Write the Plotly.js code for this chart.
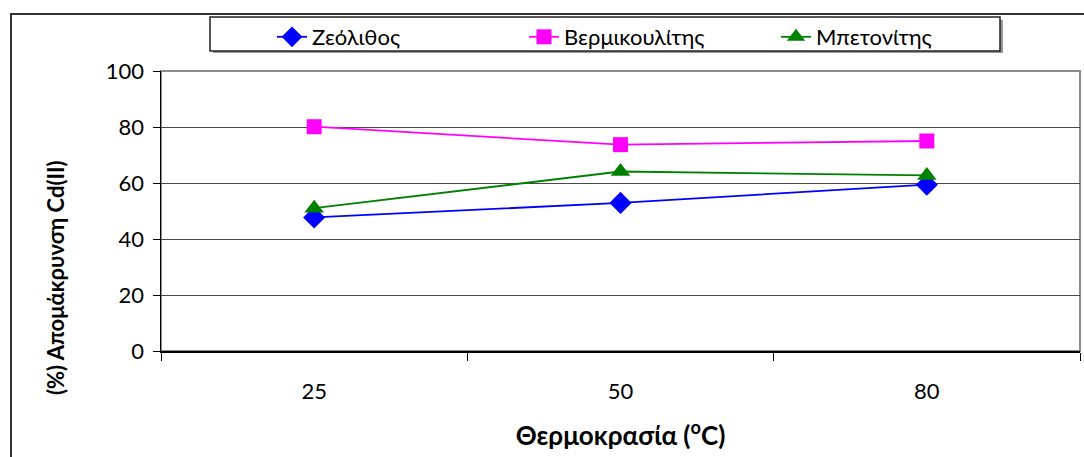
<!DOCTYPE html>
<html>
<head>
<meta charset="utf-8">
<script src="https://cdn.plot.ly/plotly-3.0.1.min.js"></script>
<style>
html,body{margin:0;padding:0;background:#fff;}
#chart{width:1084px;height:457px;}
</style>
</head>
<body>
<div id="chart"></div>
<script>
// ---- data ----
var temperatures = ["25", "50", "80"];
var zeolite = [47.7, 52.9, 59.4];
var vermiculite = [80.1, 73.7, 75.0];
var bentonite = [51.0, 64.1, 62.7];
var seriesNames = ["Ζεόλιθος", "Βερμικουλίτης", "Μπετονίτης"];
var yTicks = [0, 20, 40, 60, 80, 100];

// ---- layout geometry (pixels) ----
var W = 1084, H = 457;
var M = {l: 161, r: 4, t: 71, b: 106};
var PW = W - M.l - M.r, PH = H - M.t - M.b;
function px(x){ return (x - M.l) / PW; }
function py(y){ return 1 - (y - M.t) / PH; }

var FONT = "Lato, 'Open Sans', sans-serif";

var traces = [
  {x: temperatures, y: zeolite, name: seriesNames[0], type: "scatter", mode: "lines+markers",
   line: {color: "#0000FF", width: 1.8},
   marker: {symbol: "diamond", size: 17, color: "#0000FF"}},
  {x: temperatures, y: vermiculite, name: seriesNames[1], type: "scatter", mode: "lines+markers",
   line: {color: "#FF00FF", width: 1.8},
   marker: {symbol: "square", size: 15, color: "#FF00FF"}},
  {x: temperatures, y: bentonite, name: seriesNames[2], type: "scatter", mode: "lines+markers",
   line: {color: "#008000", width: 1.8},
   marker: {symbol: "triangle-up", size: 17, color: "#008000"}}
];

var layout = {
  width: W, height: H,
  margin: M,
  paper_bgcolor: "#ffffff",
  plot_bgcolor: "#ffffff",
  font: {family: FONT, size: 21, color: "#000"},
  showlegend: true,
  legend: {
    orientation: "h",
    x: px(272), xanchor: "left",
    y: py(16), yanchor: "top",
    bgcolor: "rgba(0,0,0,0)",
    borderwidth: 0,
    entrywidth: 207,
    entrywidthmode: "pixels",
    font: {family: FONT, size: 22, color: "#000"},
    itemclick: false
  },
  xaxis: {
    type: "category",
    range: [-0.5, 2.5],
    showgrid: false,
    showline: true, linecolor: "#000", linewidth: 1.5,
    ticks: "outside", tickson: "boundaries", ticklen: 8, tickcolor: "#000", tickwidth: 1,
    ticklabelstandoff: 20,
    tickfont: {family: FONT, size: 22, color: "#000"},
    title: {text: "<b>Θερμοκρασία (<sup>o</sup>C)</b>", font: {family: FONT, size: 26, color: "#000"}, standoff: 24},
    zeroline: false, fixedrange: true
  },
  yaxis: {
    range: [0, 100],
    tickvals: yTicks,
    showgrid: true, gridcolor: "#4a4a4a", gridwidth: 1,
    showline: true, linecolor: "#000", linewidth: 1.5,
    ticks: "outside", ticklen: 7, tickcolor: "#000", tickwidth: 1,
    ticklabelstandoff: 4,
    tickfont: {family: FONT, size: 22, color: "#000"},
    zeroline: false, fixedrange: true
  },
  annotations: [
    {text: "<b>(%) Απομάκρυνση Cd(II)</b>", textangle: -90,
     xref: "paper", yref: "paper", x: px(55), y: py(278), xanchor: "center", yanchor: "middle",
     showarrow: false, font: {family: FONT, size: 22, color: "#000"}}
  ],
  shapes: [
    // plot area border (gray)
    {type: "rect", xref: "paper", yref: "paper", x0: 0, x1: 1, y0: 0, y1: 1,
     line: {color: "#8c8c8c", width: 2}, layer: "below"},
    // outer chart frame (left and top)
    {type: "path", xref: "paper", yref: "paper",
     path: "M " + px(11) + " " + py(460) + " L " + px(11) + " " + py(14) + " L " + px(1090) + " " + py(14),
     line: {color: "#333", width: 2}},
    // legend shadow
    {type: "rect", xref: "paper", yref: "paper", x0: px(213), x1: px(1003), y0: py(53), y1: py(20),
     fillcolor: "#999", line: {width: 0}, layer: "below"},
    // legend box
    {type: "rect", xref: "paper", yref: "paper", x0: px(210), x1: px(1000), y0: py(51), y1: py(17),
     fillcolor: "#fff", line: {color: "#222", width: 1.5}, layer: "below"}
  ]
};

Plotly.newPlot("chart", traces, layout, {displayModeBar: false, staticPlot: true});
</script>
</body>
</html>
